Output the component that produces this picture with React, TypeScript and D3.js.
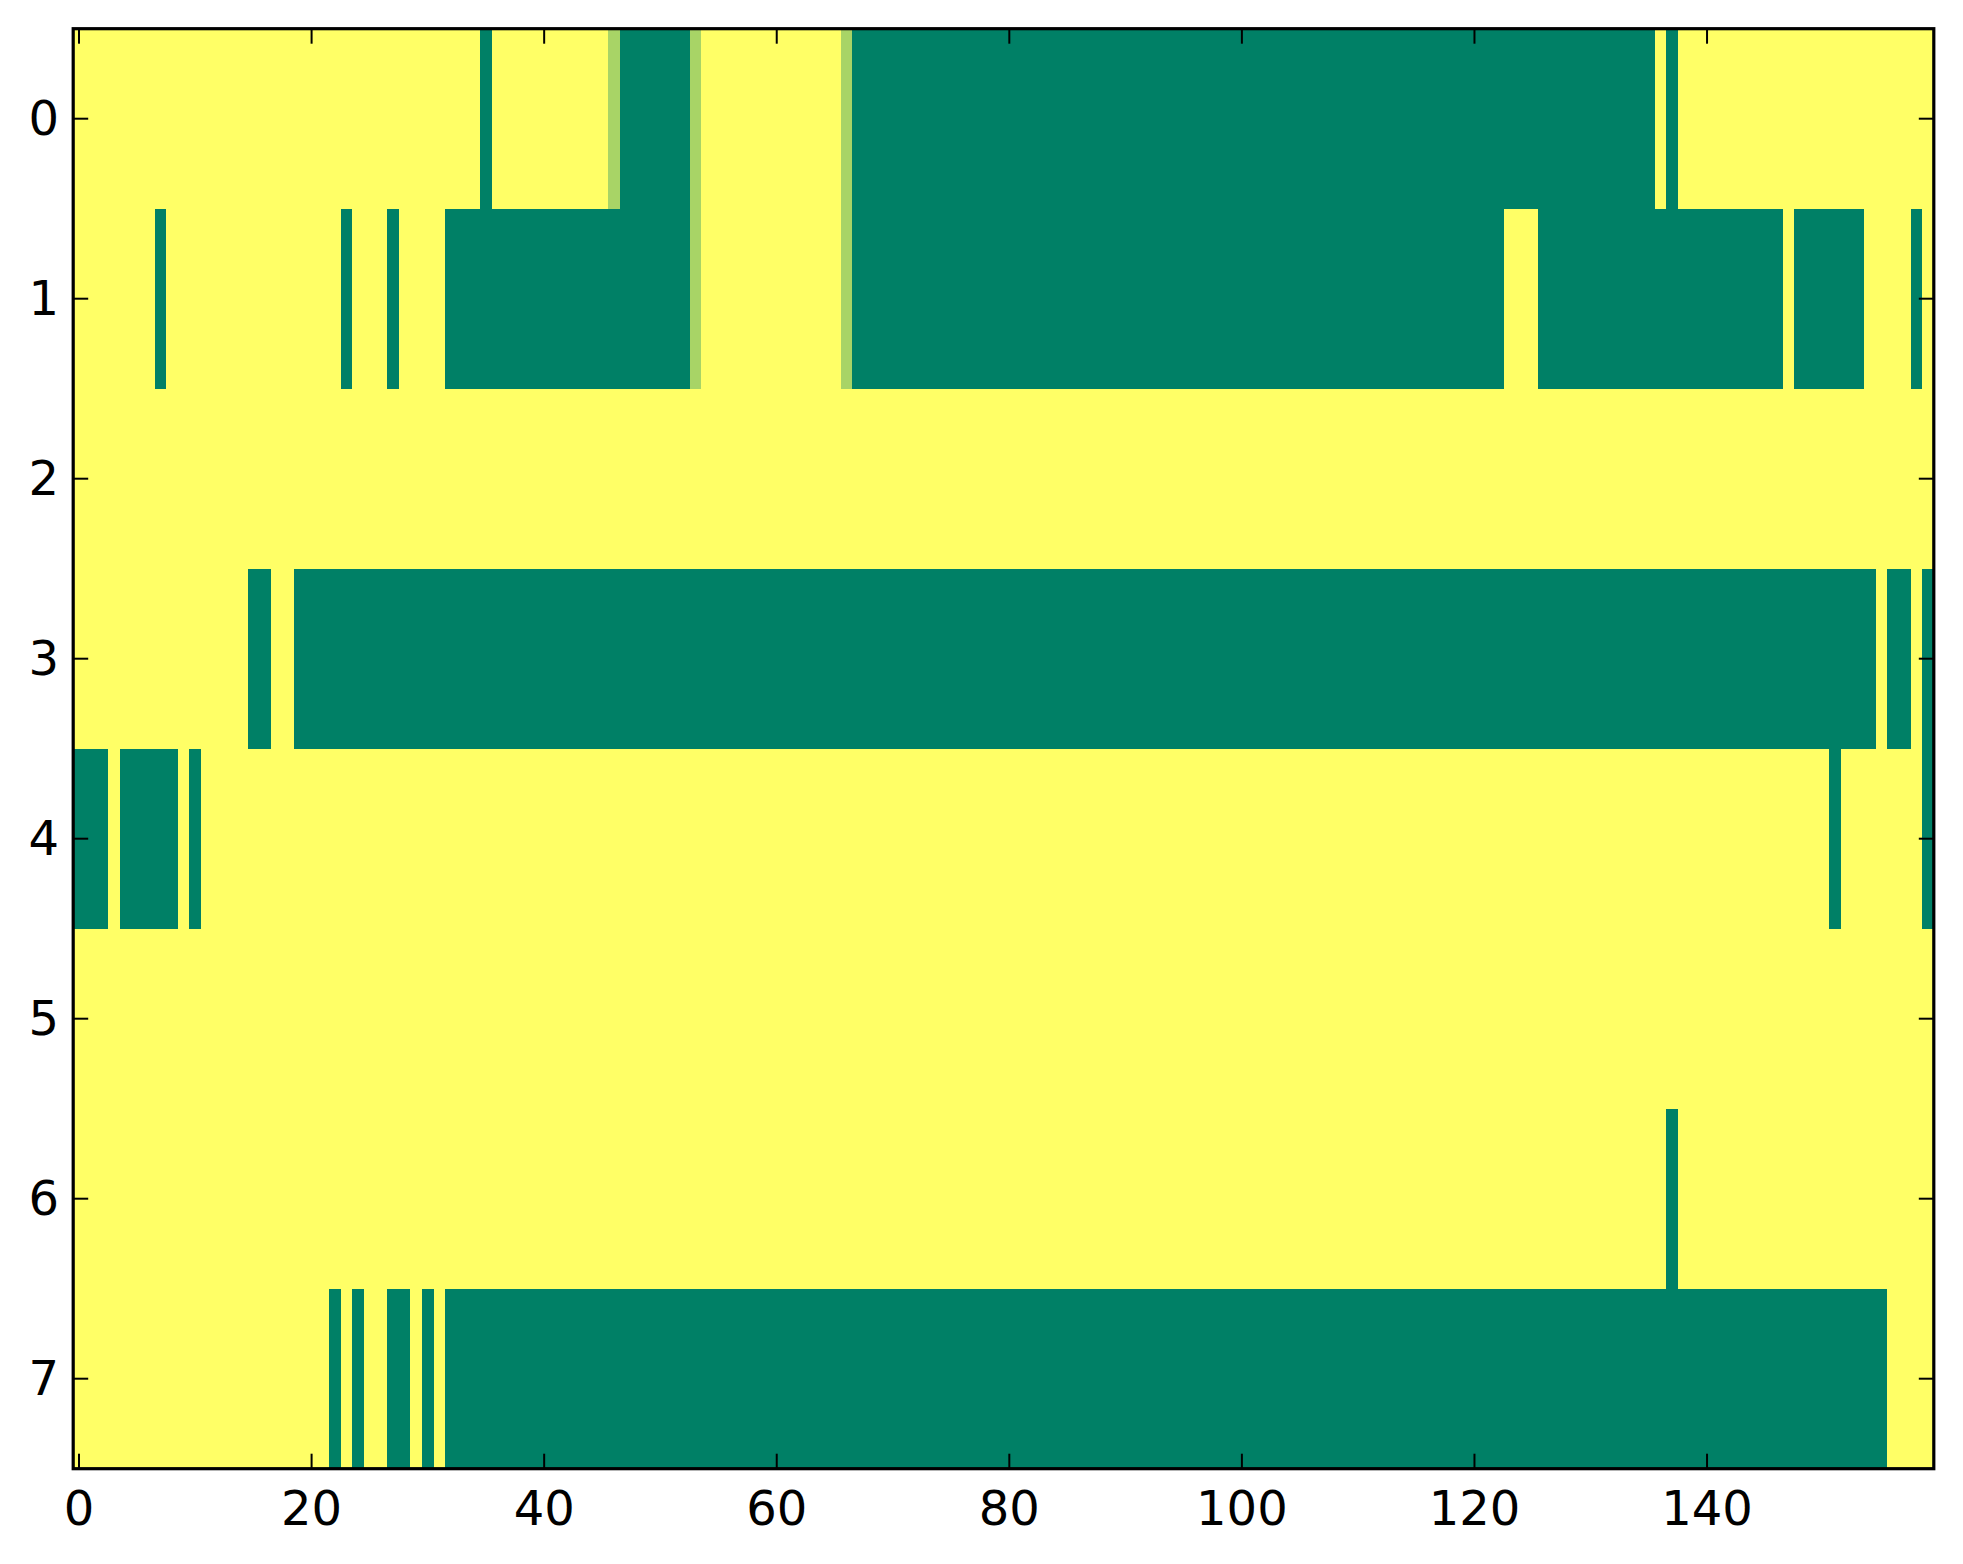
import React from "react";
import * as d3 from "d3";

// Matrix: 8 rows x 160 columns, background value 1 (yellow).
// Each row lists runs of non-background values: [startCol, endCol, value]
const nCols = 160;
const rowLabels = [0, 1, 2, 3, 4, 5, 6, 7];
const xTickValues = [0, 20, 40, 60, 80, 100, 120, 140];
const backgroundValue = 1;

const row0Runs: [number, number, number][] = [
  [35, 35, 0], [46, 46, 0.66], [47, 52, 0], [53, 53, 0.66], [66, 66, 0.66],
  [67, 135, 0], [137, 137, 0],
];
const row1Runs: [number, number, number][] = [
  [7, 7, 0], [23, 23, 0], [27, 27, 0], [32, 52, 0], [53, 53, 0.66],
  [66, 66, 0.66], [67, 122, 0], [126, 146, 0], [148, 153, 0], [158, 158, 0],
];
const row2Runs: [number, number, number][] = [];
const row3Runs: [number, number, number][] = [
  [15, 16, 0], [19, 154, 0], [156, 157, 0], [159, 159, 0],
];
const row4Runs: [number, number, number][] = [
  [0, 2, 0], [4, 8, 0], [10, 10, 0], [151, 151, 0], [159, 159, 0],
];
const row5Runs: [number, number, number][] = [];
const row6Runs: [number, number, number][] = [[137, 137, 0]];
const row7Runs: [number, number, number][] = [
  [22, 22, 0], [24, 24, 0], [27, 28, 0], [30, 30, 0], [32, 155, 0],
];

const allRuns = [row0Runs, row1Runs, row2Runs, row3Runs, row4Runs, row5Runs, row6Runs, row7Runs];

// Build the full grid from the runs
const grid: number[][] = allRuns.map((runs) => {
  const row = new Array(nCols).fill(backgroundValue);
  runs.forEach(([s, e, v]) => {
    for (let c = s; c <= e; c++) row[c] = v;
  });
  return row;
});

// matplotlib "summer" colormap: (x, 0.5 + x/2, 0.4)
const summer = (v: number) =>
  d3.rgb(Math.round(255 * v), Math.round(255 * (0.5 + v / 2)), Math.round(255 * 0.4)).toString();

const W = 1963;
const H = 1564;
const L = 73.2;
const R = 1933.8;
const T = 28.7;
const B = 1468.7;

export default function App() {
  const x = d3.scaleLinear().domain([-0.5, nCols - 0.5]).range([L, R]);
  const y = d3.scaleLinear().domain([-0.5, rowLabels.length - 0.5]).range([T, B]);

  // merge equal consecutive cells into runs for drawing
  const rects: { r: number; c0: number; c1: number; v: number }[] = [];
  grid.forEach((row, r) => {
    let start = 0;
    for (let c = 1; c <= row.length; c++) {
      if (c === row.length || row[c] !== row[start]) {
        rects.push({ r, c0: start, c1: c - 1, v: row[start] });
        start = c;
      }
    }
  });

  const tickLen = 15;
  const font = "'DejaVu Sans', sans-serif";
  const fs = 48;

  return (
    <>
      <style>{"body{margin:0;background:#fff}"}</style>
      <svg width={W} height={H} style={{ display: "block" }}>
        <rect x={0} y={0} width={W} height={H} fill="#fff" />
        <g shapeRendering="crispEdges">
          {rects.map((d, i) => (
            <rect
              key={i}
              x={x(d.c0 - 0.5)}
              y={y(d.r - 0.5)}
              width={x(d.c1 + 0.5) - x(d.c0 - 0.5)}
              height={y(d.r + 0.5) - y(d.r - 0.5)}
              fill={summer(d.v)}
            />
          ))}
        </g>
        {/* ticks */}
        <g stroke="#000" strokeWidth={2}>
          {xTickValues.map((t) => (
            <g key={"xt" + t}>
              <line x1={x(t)} x2={x(t)} y1={B} y2={B - tickLen} />
              <line x1={x(t)} x2={x(t)} y1={T} y2={T + tickLen} />
            </g>
          ))}
          {rowLabels.map((t) => (
            <g key={"yt" + t}>
              <line x1={L} x2={L + tickLen} y1={y(t)} y2={y(t)} />
              <line x1={R} x2={R - tickLen} y1={y(t)} y2={y(t)} />
            </g>
          ))}
        </g>
        <rect x={L} y={T} width={R - L} height={B - T} fill="none" stroke="#000" strokeWidth={3.2} />
        {/* labels */}
        <g fontFamily={font} fontSize={fs} fill="#000">
          {xTickValues.map((t) => (
            <text key={"xl" + t} x={x(t)} y={1525} textAnchor="middle">
              {t}
            </text>
          ))}
          {rowLabels.map((t) => (
            <text key={"yl" + t} x={59} y={y(t) + 16} textAnchor="end">
              {t}
            </text>
          ))}
        </g>
      </svg>
    </>
  );
}
